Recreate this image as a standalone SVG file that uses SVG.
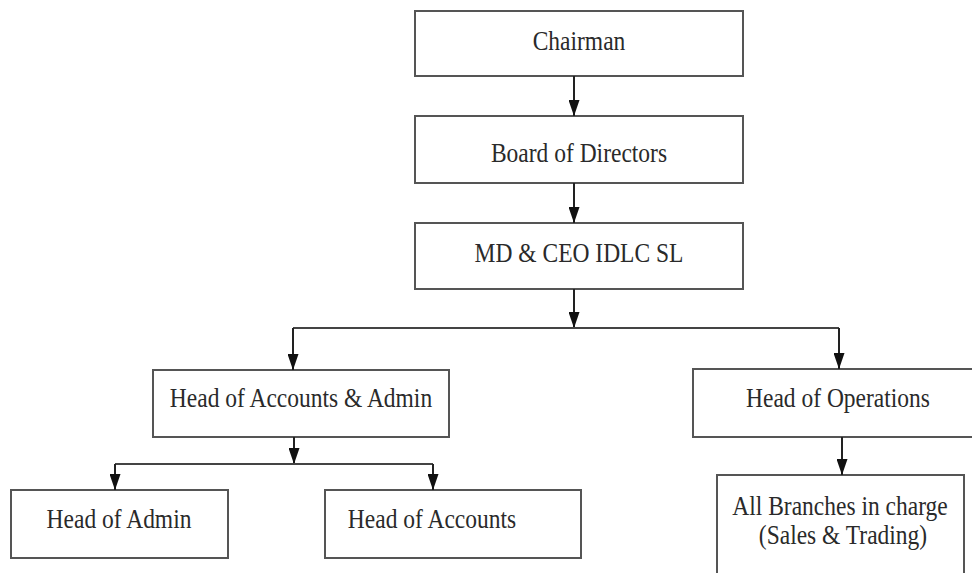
<svg xmlns="http://www.w3.org/2000/svg" width="972" height="573" viewBox="0 0 972 573">
<defs>
<marker id="ah" viewBox="0 0 16 11" refX="16" refY="5.5" markerWidth="16" markerHeight="11" orient="auto" markerUnits="userSpaceOnUse">
<path d="M0,0 L16,5.5 L0,11 z" fill="#111"/>
</marker>
</defs>
<style>
.box{fill:#fff;stroke:#555;stroke-width:2}
.lbl{font-family:"Liberation Serif","Times New Roman",serif;font-size:23.5px;fill:#2a2a2a;text-anchor:middle}
.ln{fill:none;stroke:#444;stroke-width:2}
.ar{fill:none;stroke:#222;stroke-width:2;marker-end:url(#ah)}
</style>
<rect width="972" height="573" fill="#fff"/>
<g id="nodes">
<g id="chairman"><rect class="box" x="415" y="11" width="328" height="65"/><text class="lbl" transform="translate(579,50) scale(1,1.15)">Chairman</text></g>
<g id="board"><rect class="box" x="415" y="116" width="328" height="67"/><text class="lbl" transform="translate(579,162) scale(1,1.15)">Board of Directors</text></g>
<g id="mdceo"><rect class="box" x="415" y="223" width="328" height="66"/><text class="lbl" transform="translate(579,262) scale(1,1.15)">MD &amp; CEO IDLC SL</text></g>
<g id="headAccAdmin"><rect class="box" x="153" y="370" width="296" height="67"/><text class="lbl" transform="translate(301,407) scale(1,1.15)">Head of Accounts &amp; Admin</text></g>
<g id="headOps"><rect class="box" x="693" y="369" width="285" height="68"/><text class="lbl" transform="translate(838,407) scale(1,1.15)">Head of Operations</text></g>
<g id="headAdmin"><rect class="box" x="11" y="490" width="217" height="68"/><text class="lbl" transform="translate(119,528) scale(1,1.15)">Head of Admin</text></g>
<g id="headAccounts"><rect class="box" x="325" y="490" width="256" height="68"/><text class="lbl" transform="translate(432,528) scale(1,1.15)">Head of Accounts</text></g>
<g id="branches"><rect class="box" x="717" y="475" width="247" height="110"/><text class="lbl" transform="translate(840,515) scale(1,1.15)">All Branches in charge</text><text class="lbl" transform="translate(843,544) scale(1,1.15)">(Sales &amp; Trading)</text></g>
</g>
<g id="connectors">
<line class="ar" x1="574" y1="76" x2="574" y2="116"/>
<line class="ar" x1="574" y1="183" x2="574" y2="223"/>
<line class="ar" x1="574" y1="289" x2="574" y2="328"/>
<polyline class="ln" points="293,328 839,328"/>
<line class="ar" x1="293" y1="328" x2="293" y2="370"/>
<line class="ar" x1="839" y1="328" x2="839" y2="369"/>
<line class="ar" x1="294" y1="437" x2="294" y2="464"/>
<polyline class="ln" points="115,464 433,464"/>
<line class="ar" x1="115" y1="464" x2="115" y2="490"/>
<line class="ar" x1="433" y1="464" x2="433" y2="490"/>
<line class="ar" x1="842" y1="437" x2="842" y2="475"/>
</g>
</svg>
